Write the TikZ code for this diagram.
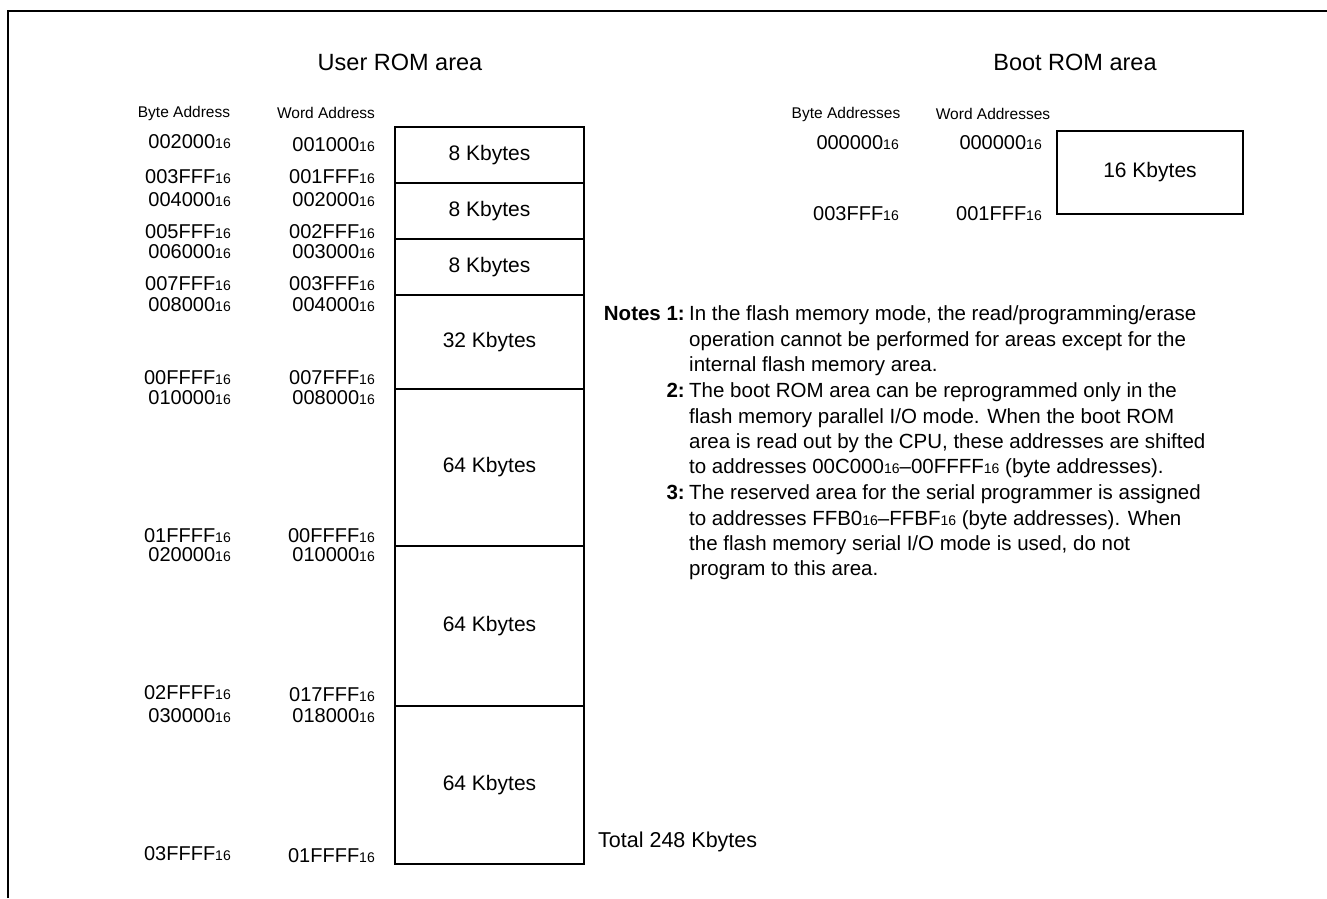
\documentclass[tikz,border=0pt]{standalone}
\usepackage{fontspec}
\setmainfont{Liberation Sans}
\newcommand\hx[1]{#1{\fontsize{14}{14}\selectfont 16}}
\newcommand\sx{{\fontsize{14}{14}\selectfont 16}}
\begin{document}
\begin{tikzpicture}[x=1pt,y=-1pt,
  blk/.style={draw,line width=1.8pt,minimum width=189pt,inner sep=0pt,font=\fontsize{21}{21}\selectfont},
  ttl/.style={font=\fontsize{23.5}{24}\selectfont},
  hdr/.style={font=\fontsize{15.5}{16}\selectfont},
  adr/.style={anchor=east,inner sep=0pt,font=\fontsize{20}{20}\selectfont},
  nt/.style={anchor=base west,inner sep=0pt,font=\fontsize{20.5}{21}\selectfont}]
\useasboundingbox (0,0) rectangle (1327,898);
\draw[line width=2pt] (8,898) -- (8,11) -- (1327,11);
% titles
\node[ttl] (tu) at (400,62) {User ROM area};
\node[ttl] (tb) at (1075,62) {Boot ROM area};
\node[hdr] (hb) at (184,113) {Byte Address};
\node[hdr] (hw) at (326,113) {Word Address};
% user blocks
\node[blk,minimum height=56pt] (b1) at (489.5,155) {8 Kbytes};
\node[blk,minimum height=56pt] (b2) at (489.5,211) {8 Kbytes};
\node[blk,minimum height=56pt] (b3) at (489.5,267) {8 Kbytes};
\node[blk,minimum height=94pt] (b4) at (489.5,342) {32 Kbytes};
\node[blk,minimum height=157pt] (b5) at (489.5,467.5) {64 Kbytes};
\node[blk,minimum height=160pt] (b6) at (489.5,626) {64 Kbytes};
\node[blk,minimum height=158pt] (b7) at (489.5,785) {64 Kbytes};
\node[anchor=west,inner sep=0pt,font=\fontsize{21.5}{22}\selectfont] (tot) at (598,842) {Total 248 Kbytes};
% byte addresses
\node[adr] (a1) at (231,142) {\hx{002000}};
\node[adr] (a2) at (231,177) {\hx{003FFF}};
\node[adr] (a3) at (231,200) {\hx{004000}};
\node[adr] (a4) at (231,232) {\hx{005FFF}};
\node[adr] (a5) at (231,252) {\hx{006000}};
\node[adr] (a6) at (231,284) {\hx{007FFF}};
\node[adr] (a7) at (231,305) {\hx{008000}};
\node[adr] (a8) at (231,378) {\hx{00FFFF}};
\node[adr] (a9) at (231,398) {\hx{010000}};
\node[adr] (a10) at (231,536) {\hx{01FFFF}};
\node[adr] (a11) at (231,555) {\hx{020000}};
\node[adr] (a12) at (231,693) {\hx{02FFFF}};
\node[adr] (a13) at (231,716) {\hx{030000}};
\node[adr] (a14) at (231,854) {\hx{03FFFF}};
% word addresses
\node[adr] (w1) at (375,145) {\hx{001000}};
\node[adr] (w2) at (375,177) {\hx{001FFF}};
\node[adr] (w3) at (375,200) {\hx{002000}};
\node[adr] (w4) at (375,232) {\hx{002FFF}};
\node[adr] (w5) at (375,252) {\hx{003000}};
\node[adr] (w6) at (375,284) {\hx{003FFF}};
\node[adr] (w7) at (375,305) {\hx{004000}};
\node[adr] (w8) at (375,378) {\hx{007FFF}};
\node[adr] (w9) at (375,398) {\hx{008000}};
\node[adr] (w10) at (375,536) {\hx{00FFFF}};
\node[adr] (w11) at (375,555) {\hx{010000}};
\node[adr] (w12) at (375,695) {\hx{017FFF}};
\node[adr] (w13) at (375,716) {\hx{018000}};
\node[adr] (w14) at (375,856) {\hx{01FFFF}};
% boot
\node[hdr] (bh1) at (846,114) {Byte Addresses};
\node[hdr] (bh2) at (993,114) {Word Addresses};
\node[adr] (c1) at (899,143) {\hx{000000}};
\node[adr] (c2) at (899,214) {\hx{003FFF}};
\node[adr] (d1) at (1042,143) {\hx{000000}};
\node[adr] (d2) at (1042,214) {\hx{001FFF}};
\node[blk,minimum width=186pt,minimum height=83pt] (bb) at (1150,172.5) {16 Kbytes};
% notes
\node[nt,anchor=base east] (n1h) at (685,320) {\textbf{Notes 1:}};
\node[nt] (n1a) at (689,320) {In the flash memory mode, the read/programming/erase};
\node[nt] (n1b) at (689,346) {operation cannot be performed for areas except for the};
\node[nt] (n1c) at (689,371) {internal flash memory area.};
\node[nt,anchor=base east] (n2h) at (685,397) {\textbf{2:}};
\node[nt] (n2a) at (689,397) {The boot ROM area can be reprogrammed only in the};
\node[nt] (n2b) at (689,423) {flash memory parallel I/O mode. When the boot ROM};
\node[nt] (n2c) at (689,448) {area is read out by the CPU, these addresses are shifted};
\node[nt] (n2d) at (689,473) {to addresses 00C000\sx--00FFFF\sx{} (byte addresses).};
\node[nt,anchor=base east] (n3h) at (685,499) {\textbf{3:}};
\node[nt] (n3a) at (689,499) {The reserved area for the serial programmer is assigned};
\node[nt] (n3b) at (689,525) {to addresses FFB0\sx--FFBF\sx{} (byte addresses). When};
\node[nt] (n3c) at (689,550) {the flash memory serial I/O mode is used, do not};
\node[nt] (n3d) at (689,575) {program to this area.};
\end{tikzpicture}
\end{document}
